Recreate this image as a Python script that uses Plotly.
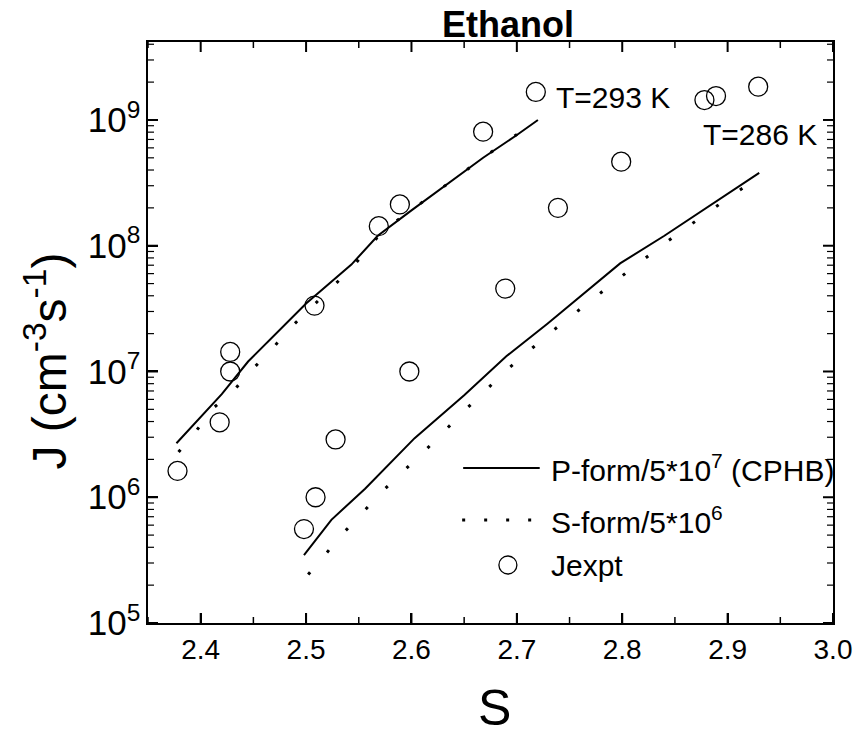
import math
import plotly.graph_objects as go

# ---- data ----
# Experimental points, T = 293 K
s_exp_293 = [2.378, 2.418, 2.428, 2.428, 2.508, 2.569, 2.589, 2.668, 2.718]
j_exp_293 = [1.62e6, 3.94e6, 1.0e7, 1.43e7, 3.34e7, 1.43e8, 2.13e8, 8.07e8, 1.67e9]
# Experimental points, T = 286 K
s_exp_286 = [2.498, 2.509, 2.528, 2.598, 2.689, 2.739, 2.799, 2.878, 2.889, 2.929]
j_exp_286 = [5.58e5, 1.0e6, 2.88e6, 1.0e7, 4.56e7, 2.0e8, 4.66e8, 1.44e9, 1.55e9, 1.84e9]

# P-form/5*10^7 (CPHB)
s_p_293 = [2.377, 2.40, 2.42, 2.445, 2.47, 2.50, 2.543, 2.568, 2.60, 2.634, 2.668, 2.70, 2.72]
j_p_293 = [2.69e6, 4.37e6, 6.61e6, 1.20e7, 1.95e7, 3.47e7, 7.08e7, 1.20e8, 1.91e8, 3.09e8, 5.01e8, 7.59e8, 1.0e9]
s_p_286 = [2.498, 2.524, 2.556, 2.603, 2.65, 2.69, 2.729, 2.798, 2.84, 2.88, 2.93]
j_p_286 = [3.47e5, 6.61e5, 1.17e6, 2.95e6, 6.46e6, 1.32e7, 2.40e7, 7.24e7, 1.20e8, 2.0e8, 3.80e8]

# S-form/5*10^6
s_s_293 = [2.379, 2.396, 2.412, 2.43, 2.447, 2.467, 2.483, 2.524, 2.543, 2.573, 2.60, 2.634, 2.668, 2.70, 2.72]
j_s_293 = [2.29e6, 3.39e6, 5.13e6, 6.84e6, 1.0e7, 1.48e7, 2.14e7, 4.68e7, 6.61e7, 1.32e8, 1.91e8, 3.09e8, 5.01e8, 7.59e8, 1.0e9]
s_s_286 = [2.502, 2.537, 2.575, 2.615, 2.653, 2.69, 2.729, 2.767, 2.806, 2.844, 2.882, 2.93]
j_s_286 = [2.43e5, 5.37e5, 1.17e6, 2.45e6, 5.13e6, 1.02e7, 1.95e7, 3.47e7, 6.31e7, 1.10e8, 1.86e8, 3.55e8]

legend_labels = ["P-form/5*10<sup>7</sup> (CPHB)", "S-form/5*10<sup>6</sup>", "Jexpt"]
temp_labels = ["T=293 K", "T=286 K"]

# axis ticks
x_major = [2.4, 2.5, 2.6, 2.7, 2.8, 2.9, 3.0]
x_minor = [2.35, 2.45, 2.55, 2.65, 2.75, 2.85, 2.95]
y_decades = [5, 6, 7, 8, 9]
X_RANGE = [2.35, 3.0]
Y_RANGE = [5, 9.62]

FONT = "Liberation Sans, Arial, sans-serif"
W, H = 864, 736
ML, MR, MT, MB = 148, 27, 42, 113
PW, PH = W - ML - MR, H - MT - MB


def px(x):
    return (x - ML) / PW


def py(y):
    return (H - MB - y) / PH


def ylog_paper(v):
    return (math.log10(v) - Y_RANGE[0]) / (Y_RANGE[1] - Y_RANGE[0])


fig = go.Figure()

solid = dict(color="black", width=2)
dotted = dict(color="black", width=3, dash="3px,26px")
marker = dict(symbol="circle-open", size=19, color="black", line=dict(width=1.3, color="black"))

fig.add_trace(go.Scatter(x=s_p_293, y=j_p_293, mode="lines", line=solid, showlegend=False))
fig.add_trace(go.Scatter(x=s_p_286, y=j_p_286, mode="lines", line=solid, showlegend=False))
fig.add_trace(go.Scatter(x=s_s_293, y=j_s_293, mode="lines", line=dotted, showlegend=False))
fig.add_trace(go.Scatter(x=s_s_286, y=j_s_286, mode="lines", line=dotted, showlegend=False))
fig.add_trace(go.Scatter(x=s_exp_293, y=j_exp_293, mode="markers", marker=marker, showlegend=False))
fig.add_trace(go.Scatter(x=s_exp_286, y=j_exp_286, mode="markers", marker=marker, showlegend=False))

tickfont = dict(family=FONT, size=28, color="black")

fig.update_xaxes(range=X_RANGE, tickvals=x_major, ticktext=[f"{v:.1f}" for v in x_major],
                 showline=True, linecolor="black", linewidth=2,
                 mirror=True, ticks="inside", ticklen=10, tickwidth=2, tickcolor="black",
                 showgrid=False, zeroline=False, tickfont=tickfont)
fig.update_yaxes(type="log", range=Y_RANGE, dtick=1, exponentformat="power",
                 showline=True, linecolor="black", linewidth=2,
                 mirror=True, ticks="inside", ticklen=10, tickwidth=2, tickcolor="black",
                 showgrid=False, zeroline=False, tickfont=tickfont)

annotations = [
    dict(text="<b>Ethanol</b>", x=px(510), y=py(24), xref="paper", yref="paper",
         xanchor="center", yanchor="middle",
         showarrow=False, font=dict(family=FONT, size=36, color="black")),
    dict(text="S", x=px(497), y=py(708), xref="paper", yref="paper",
         xanchor="center", yanchor="middle",
         showarrow=False, font=dict(family=FONT, size=50, color="black")),
    dict(text="J (cm<sup>-3</sup>s<sup>-1</sup>)", x=px(45), y=py(361), xref="paper", yref="paper",
         xanchor="center", yanchor="middle",
         textangle=-90, showarrow=False, font=dict(family=FONT, size=48, color="black")),
    dict(text=temp_labels[0], x=px(556), y=py(98), xref="paper", yref="paper",
         xanchor="left", yanchor="middle",
         showarrow=False, font=dict(family=FONT, size=30, color="black")),
    dict(text=temp_labels[1], x=px(704), y=py(134), xref="paper", yref="paper",
         xanchor="left", yanchor="middle",
         showarrow=False, font=dict(family=FONT, size=30, color="black")),
]
leg_y = [468, 520, 565]
for lab, yy in zip(legend_labels, leg_y):
    annotations.append(dict(text=lab, x=px(551), y=py(yy), xref="paper", yref="paper",
                            xanchor="left", yanchor="middle",
                            showarrow=False, font=dict(family=FONT, size=30, color="black")))

shapes = [
    dict(type="line", xref="paper", yref="paper", x0=px(465), x1=px(542), y0=py(468), y1=py(468),
         line=dict(color="black", width=2)),
    dict(type="line", xref="paper", yref="paper", x0=px(464), x1=px(545), y0=py(520), y1=py(520),
         line=dict(color="black", width=3, dash="3px,19px")),
    dict(type="circle", xref="paper", yref="paper", xsizemode="pixel", ysizemode="pixel",
         xanchor=px(510), yanchor=py(565), x0=-9, x1=9, y0=-9, y1=9,
         line=dict(color="black", width=1.3)),
]


# tick marks (inside, mirrored on all four sides), drawn as pixel-sized shapes
def xtick(v, length, width):
    out = []
    for anchor, a, b in ((0, 0, length), (1, -length, 0)):
        out.append(dict(type="line", xref="x", yref="paper", ysizemode="pixel", yanchor=anchor,
                        x0=v, x1=v, y0=a, y1=b, layer="above",
                        line=dict(color="black", width=width)))
    return out


def ytick(pos, length, width):
    out = []
    for anchor, a, b in ((0, 0, length), (1, -length, 0)):
        out.append(dict(type="line", xref="paper", yref="paper", xsizemode="pixel", xanchor=anchor,
                        x0=a, x1=b, y0=pos, y1=pos, layer="above",
                        line=dict(color="black", width=width)))
    return out


for v in x_major:
    shapes += xtick(v, 10, 2)
for v in x_minor:
    shapes += xtick(v, 6, 1.5)
for d in y_decades:
    shapes += ytick(ylog_paper(10 ** d), 10, 2)
    for m in range(2, 10):
        p = ylog_paper(m * 10 ** d)
        if p <= 1:
            shapes += ytick(p, 6, 1.2)

fig.update_layout(
    width=W, height=H,
    margin=dict(l=ML, r=MR, t=MT, b=MB),
    plot_bgcolor="white", paper_bgcolor="white",
    annotations=annotations, shapes=shapes,
    showlegend=False,
)

fig.write_html("out.html")
